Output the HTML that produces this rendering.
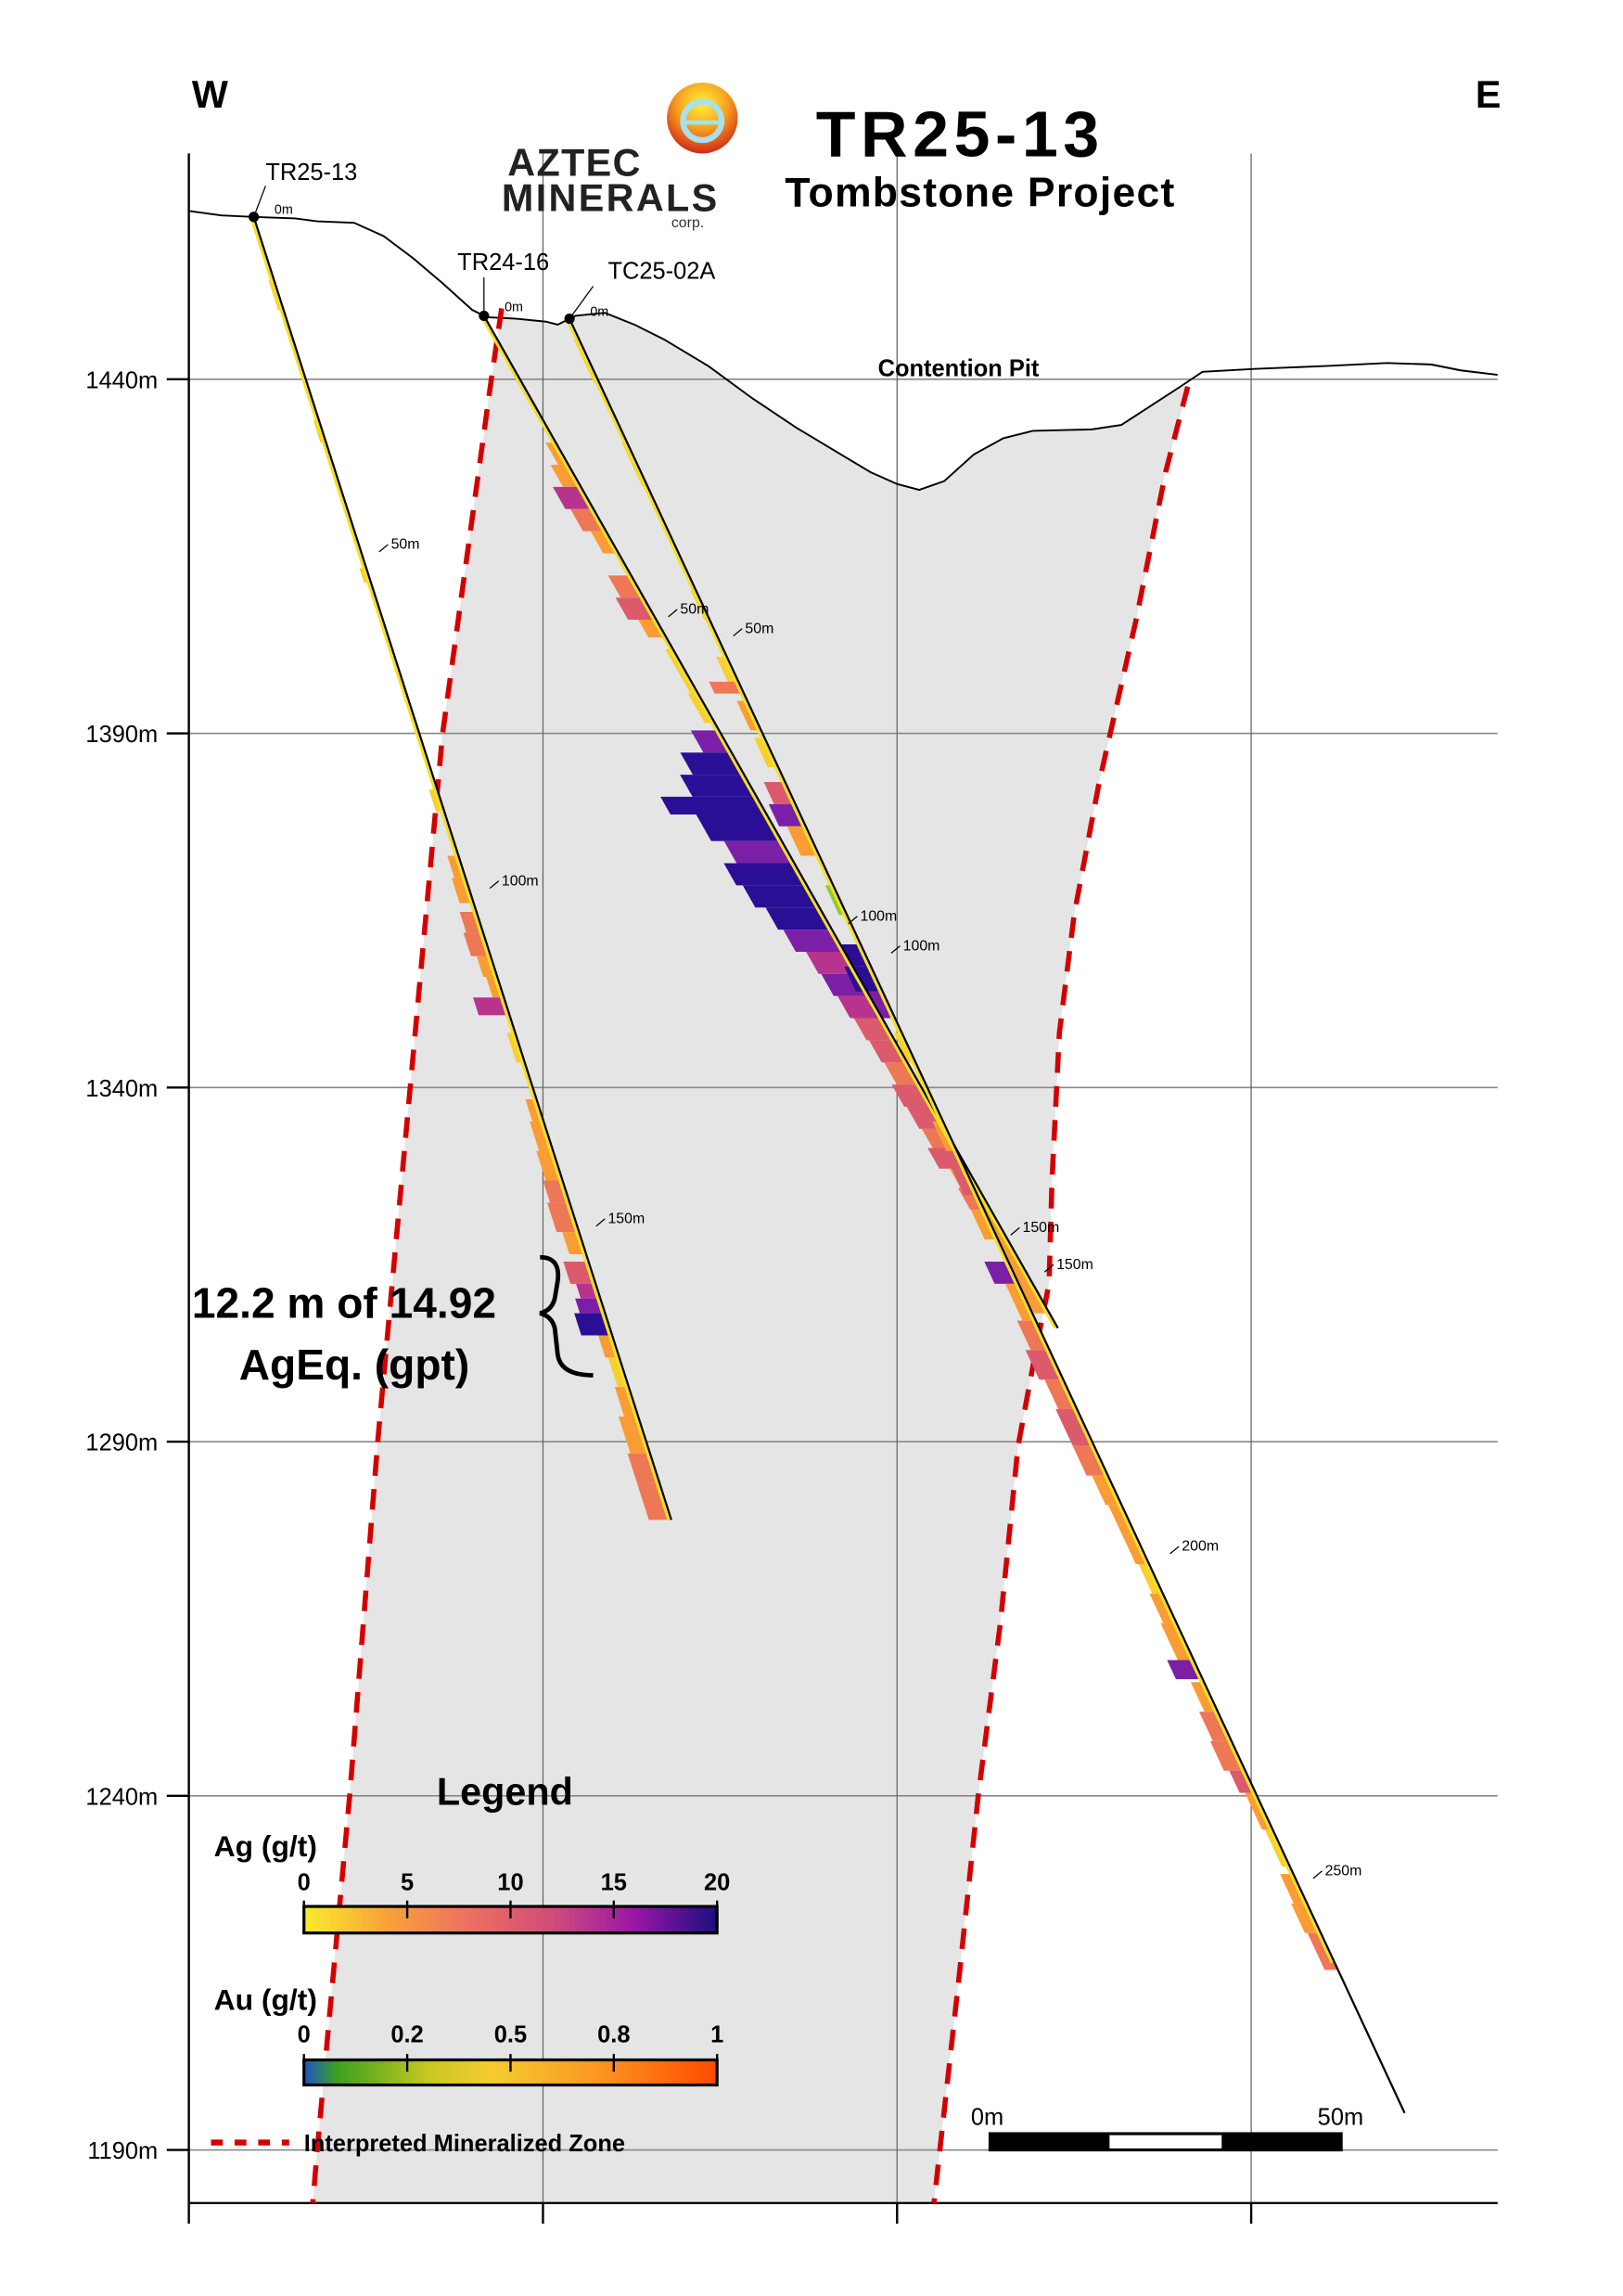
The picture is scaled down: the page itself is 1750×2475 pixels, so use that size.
<!DOCTYPE html>
<html><head><meta charset="utf-8"><style>html,body{margin:0;padding:0;background:#fff}svg{display:block}</style></head>
<body>
<svg id="s" width="1750" height="2475" viewBox="0 0 1100 1556" preserveAspectRatio="none" xmlns="http://www.w3.org/2000/svg" font-family="Liberation Sans, sans-serif">
<defs>
<linearGradient id="ag" x1="0" x2="1"><stop offset="0" stop-color="#f9ec2b"/><stop offset="0.2" stop-color="#f9a23a"/><stop offset="0.4" stop-color="#ec7060"/><stop offset="0.6" stop-color="#d04c7a"/><stop offset="0.8" stop-color="#9a16a6"/><stop offset="1" stop-color="#1c0e80"/></linearGradient>
<linearGradient id="au" x1="0" x2="1"><stop offset="0" stop-color="#1f54c8"/><stop offset="0.08" stop-color="#3aa020"/><stop offset="0.3" stop-color="#c8c820"/><stop offset="0.45" stop-color="#f5cc30"/><stop offset="0.7" stop-color="#fa9a22"/><stop offset="1" stop-color="#ff4a00"/></linearGradient>
<radialGradient id="lg" cx="0.5" cy="0.3" r="0.7"><stop offset="0" stop-color="#fff23a"/><stop offset="0.5" stop-color="#f7a21e"/><stop offset="1" stop-color="#d02a18"/></radialGradient>
</defs>
<!-- gray zone -->
<path d="M340,209 L350,216 L370,218 L378,220 L390,214 L410,212 L430,220 L450,230 L480,248 L510,270 L540,290 L570,308 L590,320 L608,328 L623,332 L640,326 L660,308 L680,297 L700,292 L740,291 L760,288 L780,275 L800,262 L805,262 L790,320 L770,420 L745,530 L728,620 L718,700 L713,800 L711,870 L703,910 L690,980 L678,1100 L663,1217 L650,1340 L637,1457 L633,1493 L212,1493 L215,1457 L237,1217 L256,977 L278,737 L300,497 L333,257 Z" fill="#e5e5e5"/>
<!-- grid -->
<g stroke="#888" stroke-width="1">
<line x1="128" y1="257" x2="1015" y2="257"/><line x1="128" y1="497" x2="1015" y2="497"/><line x1="128" y1="737" x2="1015" y2="737"/><line x1="128" y1="977" x2="1015" y2="977"/><line x1="128" y1="1217" x2="1015" y2="1217"/><line x1="128" y1="1457" x2="1015" y2="1457"/>
</g>
<g stroke="#666" stroke-width="0.8">
<line x1="368" y1="104" x2="368" y2="1507"/><line x1="608" y1="104" x2="608" y2="1507"/><line x1="848" y1="104" x2="848" y2="1507"/>
</g>
<g stroke="#000" stroke-width="1.5">
<line x1="128" y1="104" x2="128" y2="1507"/><line x1="128" y1="1493" x2="1015" y2="1493"/>
<line x1="368" y1="1493" x2="368" y2="1507"/><line x1="608" y1="1493" x2="608" y2="1507"/><line x1="848" y1="1493" x2="848" y2="1507"/>
<line x1="113" y1="257" x2="128" y2="257"/><line x1="113" y1="497" x2="128" y2="497"/><line x1="113" y1="737" x2="128" y2="737"/><line x1="113" y1="977" x2="128" y2="977"/><line x1="113" y1="1217" x2="128" y2="1217"/><line x1="113" y1="1457" x2="128" y2="1457"/>
</g>
<g font-size="16" text-anchor="end">
<text x="107" y="263">1440m</text><text x="107" y="503">1390m</text><text x="107" y="743">1340m</text><text x="107" y="983">1290m</text><text x="107" y="1223">1240m</text><text x="107" y="1463">1190m</text>
</g>
<!-- topo -->
<polyline fill="none" stroke="#000" stroke-width="1.2" points="128,143 150,146 172,147 200,148 215,150 240,151 260,160 280,175 300,192 320,210 330,215 350,216 370,218 378,220 390,214 410,212 430,220 450,230 480,248 510,270 540,290 570,308 590,320 608,328 623,332 640,326 660,308 680,297 700,292 740,291 760,288 780,275 800,262 815,252 850,250 900,248 940,246 970,247 990,251 1015,254"/>
<!-- dashed zone lines -->
<g fill="none" stroke="#d40000" stroke-width="3.5" stroke-dasharray="14,9">
<polyline points="340,209 333,257 300,497 278,737 256,977 237,1217 215,1457 212,1493"/>
<polyline points="805,262 790,320 770,420 745,530 728,620 718,700 713,800 711,870 703,910 690,980 678,1100 663,1217 650,1340 637,1457 633,1493"/>
</g>
<g id="bars"></g>
<g id="holes"></g>
<!-- bracket -->
<path d="M366,852 Q380,852 378,868 L376,880 Q374,888 366,890 Q374,892 376,900 L378,918 Q380,932 402,932" fill="none" stroke="#000" stroke-width="3"/>
<text x="130" y="893" font-size="29" font-weight="bold">12.2 m of 14.92</text>
<text x="162" y="935" font-size="29" font-weight="bold">AgEq. (gpt)</text>
<!-- labels -->
<g font-size="16">
<text x="180" y="122">TR25-13</text><text x="310" y="183">TR24-16</text><text x="412" y="189">TC25-02A</text>
</g>
<g stroke="#000" stroke-width="0.8"><line x1="172" y1="147" x2="180" y2="126"/><line x1="328" y1="214" x2="328" y2="188"/><line x1="386" y1="216" x2="402" y2="194"/></g>
<text x="595" y="255" font-size="16" font-weight="bold">Contention Pit</text>
<text x="130" y="73" font-size="26" font-weight="bold">W</text>
<text x="1000" y="73" font-size="26" font-weight="bold">E</text>
<circle cx="476" cy="80" r="24" fill="url(#lg)"/>
<circle cx="476" cy="82" r="13" fill="none" stroke="#a8e0f0" stroke-width="4"/>
<line x1="463" y1="83" x2="489" y2="83" stroke="#a8e0f0" stroke-width="3"/>
<text x="344" y="119" font-size="26" font-weight="bold" fill="#222" textLength="90">AZTEC</text>
<text x="340" y="143" font-size="26" font-weight="bold" fill="#222" textLength="146">MINERALS</text>
<text x="455" y="154" font-size="10" fill="#333">corp.</text>
<text x="553" y="106" font-size="44" font-weight="bold" textLength="192">TR25-13</text>
<text x="532" y="140" font-size="28" font-weight="bold" textLength="264">Tombstone Project</text>
<!-- legend -->
<text x="296" y="1223" font-size="26" font-weight="bold">Legend</text>
<text x="145" y="1258" font-size="20" font-weight="bold">Ag (g/t)</text>
<g font-size="16" font-weight="bold" text-anchor="middle"><text x="206" y="1281">0</text><text x="276" y="1281">5</text><text x="346" y="1281">10</text><text x="416" y="1281">15</text><text x="486" y="1281">20</text></g>
<rect x="206" y="1292" width="280" height="18" fill="url(#ag)" stroke="#000" stroke-width="2"/>
<g stroke="#000" stroke-width="1.5"><line x1="206" y1="1288" x2="206" y2="1300"/><line x1="276" y1="1288" x2="276" y2="1300"/><line x1="346" y1="1288" x2="346" y2="1300"/><line x1="416" y1="1288" x2="416" y2="1300"/><line x1="486" y1="1288" x2="486" y2="1300"/></g>
<text x="145" y="1362" font-size="20" font-weight="bold">Au (g/t)</text>
<g font-size="16" font-weight="bold" text-anchor="middle"><text x="206" y="1384">0</text><text x="276" y="1384">0.2</text><text x="346" y="1384">0.5</text><text x="416" y="1384">0.8</text><text x="486" y="1384">1</text></g>
<rect x="206" y="1396" width="280" height="17" fill="url(#au)" stroke="#000" stroke-width="2"/>
<g stroke="#000" stroke-width="1.5"><line x1="206" y1="1392" x2="206" y2="1404"/><line x1="276" y1="1392" x2="276" y2="1404"/><line x1="346" y1="1392" x2="346" y2="1404"/><line x1="416" y1="1392" x2="416" y2="1404"/><line x1="486" y1="1392" x2="486" y2="1404"/></g>
<line x1="143" y1="1452" x2="196" y2="1452" stroke="#d40000" stroke-width="4" stroke-dasharray="8,8"/>
<text x="206" y="1458" font-size="16" font-weight="bold">Interpreted Mineralized Zone</text>
<text x="658" y="1440" font-size="16">0m</text><text x="893" y="1440" font-size="16">50m</text>
<rect x="670" y="1445" width="240" height="13" fill="#000"/><rect x="752" y="1447" width="76" height="9" fill="#fff"/>
</svg>
<script>
const NS="http://www.w3.org/2000/svg";
const bars=document.getElementById('bars'), holes=document.getElementById('holes');
const H={a:[172,147,455,1030],b:[328,214,717,900],c:[386,216,952,1432]};
function pt(h,y){const [x0,y0,x1,y1]=H[h];return [x0+(x1-x0)*(y-y0)/(y1-y0),y];}
function bar(h,ya,yb,w,c){const [x0,y0,x1,y1]=H[h];let dx=x1-x0,dy=y1-y0,L=Math.hypot(dx,dy);let px=-dy/L,py=dx/L;
const A=pt(h,ya),B=pt(h,yb);const p=document.createElementNS(NS,'polygon');
p.setAttribute('points',[A,B,[B[0]+px*w,B[1]-py*w*0.0+(-px)*0],[A[0]+px*w,A[1]]].map((q,i)=>i>=2?q:q).map(q=>q.join(',')).join(' '));
p.setAttribute('points',`${A[0]},${A[1]} ${B[0]},${B[1]} ${B[0]-py*0+px*w},${B[1]+(dx/L)*0+ (w*dx/L)*0} ${A[0]+px*w},${A[1]}`);
p.setAttribute('fill',c);bars.appendChild(p);}
const Y='#f7cf32',O='#f99c35',S='#ee7756',P='#db5a6c',M='#b8338d',V='#7a1fa6',B='#2a0f96',D='#1a0a7c',G='#8cc83a';
function seq(h,list){list.forEach(r=>bar(h,r[0],r[1],r[2],r[3]));}
seq('a',[[190,210,4,Y],[285,300,4,Y],[385,395,5,Y],[535,550,6,Y],[580,595,8,O],[595,612,10,O],[618,632,12,S],[632,648,14,S],[648,662,10,O],[662,676,8,O],[676,688,22,M],[700,720,6,Y],[745,760,8,O],[760,780,10,O],[780,800,12,O],[800,815,14,S],[815,835,16,S],[835,850,12,O],[855,870,18,P],[870,880,14,M],[880,890,18,V],[890,905,22,B],[905,920,10,O],[920,940,8,Y],[940,960,10,O],[960,985,14,O],[985,1005,16,S],[1005,1030,16,S]]);
seq('b',[[300,315,8,O],[315,330,14,O],[330,345,22,M],[345,360,18,S],[360,375,12,O],[390,405,18,S],[405,420,22,P],[420,432,14,O],[440,470,6,Y],[470,490,8,Y],[495,510,22,V],[510,525,40,B],[525,540,50,B],[540,552,75,B],[552,570,55,B],[570,585,45,V],[585,600,55,B],[600,615,50,B],[615,630,42,B],[630,645,38,V],[645,660,30,M],[660,675,28,V],[675,690,25,M],[690,705,22,P],[705,720,20,P],[720,735,18,S],[735,750,22,P],[750,765,20,P],[765,778,18,S],[778,792,22,P],[792,805,14,O],[805,820,16,S],[820,835,10,O],[835,850,8,O],[850,870,10,O],[870,890,12,O]]);
seq('c',[[230,260,4,Y],[300,330,4,Y],[400,420,4,Y],[445,470,8,Y],[462,470,22,S],[475,495,8,O],[500,520,8,Y],[530,545,16,P],[545,560,20,V],[560,580,14,O],[600,620,6,G],[640,655,16,B],[655,672,20,B],[672,690,14,V],[700,720,6,Y],[760,780,8,O],[790,810,10,P],[820,840,10,O],[855,870,18,V],[870,895,10,O],[895,915,14,S],[915,935,18,P],[935,955,14,S],[955,980,16,P],[980,1000,16,S],[1000,1020,12,O],[1020,1040,10,O],[1040,1060,10,O],[1060,1080,8,Y],[1080,1100,10,O],[1100,1125,12,O],[1125,1138,20,V],[1140,1160,10,O],[1160,1180,14,S],[1180,1200,16,S],[1200,1215,12,P],[1215,1240,8,O],[1240,1265,6,Y],[1270,1290,10,O],[1290,1310,12,O],[1310,1335,10,S]]);
function ln(x1,y1,x2,y2,c,w){const l=document.createElementNS(NS,'line');l.setAttribute('x1',x1);l.setAttribute('y1',y1);l.setAttribute('x2',x2);l.setAttribute('y2',y2);l.setAttribute('stroke',c);l.setAttribute('stroke-width',w);holes.appendChild(l);}
function tx(x,y,t,s){const e=document.createElementNS(NS,'text');e.setAttribute('x',x);e.setAttribute('y',y);e.setAttribute('font-size',s);e.textContent=t;holes.appendChild(e);}
[['a',1030],['b',900],['c',1330]].forEach(([h,ye])=>{const [x0,y0,x1,y1]=H[h];const E=pt(h,ye);ln(x0-1.5,y0,E[0]-1.5,E[1],'#f5e020',2.5);ln(x0,y0,x1,y1,'#000',1.4);const c=document.createElementNS(NS,'circle');c.setAttribute('cx',x0);c.setAttribute('cy',y0);c.setAttribute('r',3.5);holes.appendChild(c);});
tx(186,145,'0m',9);tx(342,211,'0m',9);tx(400,214,'0m',9);
[[265,372,'50m'],[340,600,'100m'],[412,829,'150m'],[461,416,'50m'],[583,624,'100m'],[693,835,'150m'],[505,429,'50m'],[612,644,'100m'],[716,860,'150m'],[801,1051,'200m'],[898,1271,'250m']].forEach(a=>{tx(a[0],a[1],a[2],10);ln(a[0]-8,a[1]+2,a[0]-2,a[1]-3,'#000',0.8);});
</script>
</body></html>
